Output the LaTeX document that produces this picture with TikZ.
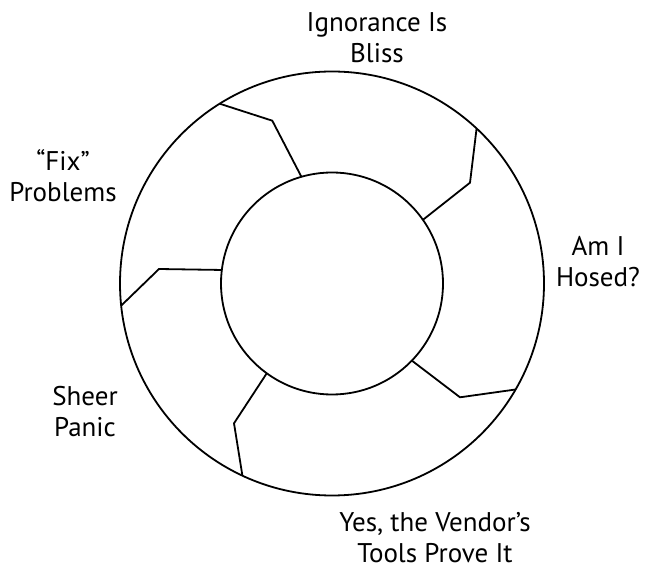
\documentclass[tikz,border=0pt]{standalone}
\usepackage{fontspec}
\setmainfont{PT Sans}
\begin{document}
\begin{tikzpicture}[x=1pt,y=1pt,
  ring/.style={circle,draw,line width=1.8pt,outer sep=0pt,inner sep=0pt},
  divider/.style={line width=1.8pt,line join=miter},
  label/.style={align=center,inner sep=0pt,font=\fontsize{27}{31}\selectfont}]
\useasboundingbox (0,0) rectangle (645,570);
\coordinate (c) at (332,286.5);
% two concentric rings
\node[ring,minimum size=424pt] (outer) at (c) {};
\node[ring,minimum size=222pt] (inner) at (c) {};
% bend points of the five dividers
\coordinate (b1) at (272.3,449.3);
\coordinate (b2) at (470,387.3);
\coordinate (b3) at (460,172.7);
\coordinate (b4) at (234,146.7);
\coordinate (b5) at (159,301);
% dividers between the stages
\draw[divider] (outer.122.2) -- (b1) -- (inner.106.6);
\draw[divider] (outer.47) -- (b2) -- (inner.35.8);
\draw[divider] (inner.-44) -- (b3) -- (outer.-30.1);
\draw[divider] (inner.234.9) -- (b4) -- (outer.245.3);
\draw[divider] (inner.173.4) -- (b5) -- (outer.186.2);
% stage labels
\node[label] (s1) at (377,532) {Ignorance Is\\Bliss};
\node[label] (s2) at (598,308) {Am I\\Hosed?};
\node[label] (s3) at (435,32) {Yes, the Vendor’s\\Tools Prove It};
\node[label] (s4) at (85,158) {Sheer\\Panic};
\node[label] (s5) at (63,394) {“Fix”\\Problems};
\end{tikzpicture}
\end{document}
